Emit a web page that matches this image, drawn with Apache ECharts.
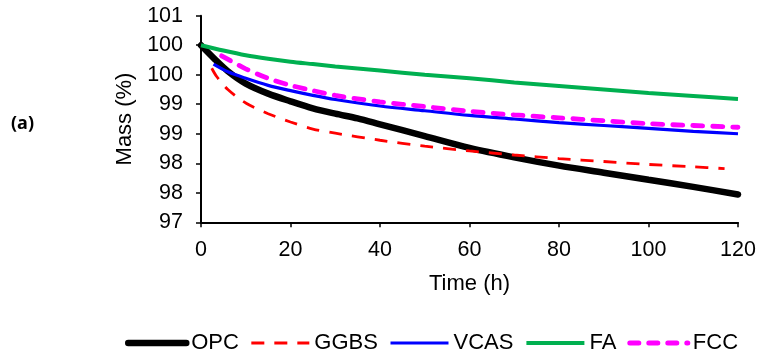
<!DOCTYPE html>
<html>
<head>
<meta charset="utf-8">
<script src="https://cdn.jsdelivr.net/npm/echarts@6/dist/echarts.min.js"></script>
<style>
  html, body { margin: 0; padding: 0; background: #fff; }
  #chart { width: 776px; height: 357px; }
</style>
</head>
<body>
<div id="chart"></div>
<script>
// time (h) and mass (%)
const opcHours = [0, 3, 6, 10, 15, 20, 25, 30, 35, 40, 50, 60, 70, 80, 90, 100, 110, 120]
const opcMass = [100, 99.77, 99.56, 99.35, 99.18, 99.05, 98.93, 98.84, 98.76, 98.66, 98.46, 98.26, 98.10, 97.96, 97.84, 97.72, 97.60, 97.47]

const ggbsHours = [2.4, 3.5, 6, 10, 15, 20, 25, 30, 40, 50, 60, 70, 80, 90, 100, 110, 117]
const ggbsMass = [99.61, 99.47, 99.25, 99.02, 98.84, 98.70, 98.58, 98.51, 98.39, 98.29, 98.21, 98.14, 98.08, 98.03, 97.98, 97.94, 97.91]

const vcasHours = [2.8, 6, 10, 15, 20, 25, 30, 40, 50, 60, 70, 80, 90, 100, 110, 120]
const vcasMass = [99.68, 99.55, 99.44, 99.32, 99.23, 99.15, 99.08, 98.97, 98.89, 98.81, 98.75, 98.69, 98.64, 98.59, 98.54, 98.50]

const faHours = [0, 5, 10, 15, 20, 25, 30, 40, 50, 60, 70, 80, 90, 100, 110, 120]
const faMass = [100, 99.91, 99.83, 99.77, 99.72, 99.68, 99.64, 99.57, 99.50, 99.44, 99.37, 99.31, 99.25, 99.19, 99.14, 99.09]

const fccHours = [4.6, 7, 10, 15, 20, 25, 30, 40, 50, 60, 70, 80, 90, 100, 110, 120]
const fccMass = [99.82, 99.72, 99.60, 99.44, 99.32, 99.23, 99.15, 99.04, 98.96, 98.88, 98.82, 98.77, 98.72, 98.67, 98.64, 98.61]

const font = 'Arial, "Liberation Sans", sans-serif'

const pairs = (xs, ys) => xs.map((x, i) => [x, ys[i]])

const styles = {
  OPC: { color: '#000000', width: 6.5, type: 'solid', cap: 'round' },
  GGBS: { color: '#FF0000', width: 2.8, type: [13, 10], cap: 'butt' },
  VCAS: { color: '#0000FF', width: 3.2, type: 'solid', cap: 'butt' },
  FA: { color: '#00B050', width: 4, type: 'solid', cap: 'butt' },
  FCC: { color: '#FF00FF', width: 4.8, type: [10, 10], cap: 'round' }
}

function line(name, xs, ys) {
  const s = styles[name]
  return {
    name,
    type: 'line',
    data: pairs(xs, ys),
    smooth: 0.3,
    symbol: 'none',
    lineStyle: { color: s.color, width: s.width, type: s.type, cap: s.cap },
    itemStyle: { color: s.color }
  }
}

const chart = echarts.init(document.getElementById('chart'))

chart.setOption({
  animation: false,
  title: {
    text: '(a)',
    left: 11,
    top: 115,
    padding: 0,
    textStyle: { fontFamily: '"Noto Sans", sans-serif', fontSize: 18, fontWeight: 'bold', color: '#000' }
  },
  grid: { left: 201, right: 38, top: 15.7, bottom: 134.7 },
  legend: {
    left: 125,
    top: 332,
    padding: 0,
    itemWidth: 58,
    itemHeight: 14,
    itemGap: 11,
    itemStyle: { opacity: 0, borderWidth: 0 },
    textStyle: { fontFamily: font, fontSize: 22, color: '#000' },
    data: Object.keys(styles).map(name => ({
      name,
      lineStyle: {
        color: styles[name].color,
        width: name === 'FCC' ? 5 : styles[name].width,
        type: name === 'FCC' ? [9, 10] : styles[name].type,
        cap: styles[name].cap
      }
    }))
  },
  xAxis: {
    type: 'value',
    min: 0,
    max: 120,
    interval: 20,
    name: 'Time (h)',
    nameLocation: 'middle',
    nameGap: 51,
    nameTextStyle: { fontFamily: font, fontSize: 22, color: '#000' },
    axisLine: { lineStyle: { color: '#000', width: 2 } },
    axisTick: { show: true, inside: false, length: 5, lineStyle: { color: '#000', width: 1.5 } },
    axisLabel: { fontFamily: font, fontSize: 21.5, color: '#000', margin: 17 },
    splitLine: { show: false }
  },
  yAxis: {
    type: 'value',
    min: 97,
    max: 100.5,
    interval: 0.5,
    name: 'Mass (%)',
    nameLocation: 'middle',
    nameGap: 55,
    nameTextStyle: { fontFamily: font, fontSize: 22, color: '#000' },
    axisLine: { show: true, lineStyle: { color: '#000', width: 2 } },
    axisTick: { show: true, inside: false, length: 5, lineStyle: { color: '#000', width: 1.5 } },
    axisLabel: {
      fontFamily: font,
      fontSize: 21.5,
      color: '#000',
      margin: 18,
      formatter: v => String(Math.round(v))
    },
    splitLine: { show: false }
  },
  series: [
    line('OPC', opcHours, opcMass),
    line('GGBS', ggbsHours, ggbsMass),
    line('VCAS', vcasHours, vcasMass),
    line('FA', faHours, faMass),
    line('FCC', fccHours, fccMass)
  ]
})
</script>
</body>
</html>
